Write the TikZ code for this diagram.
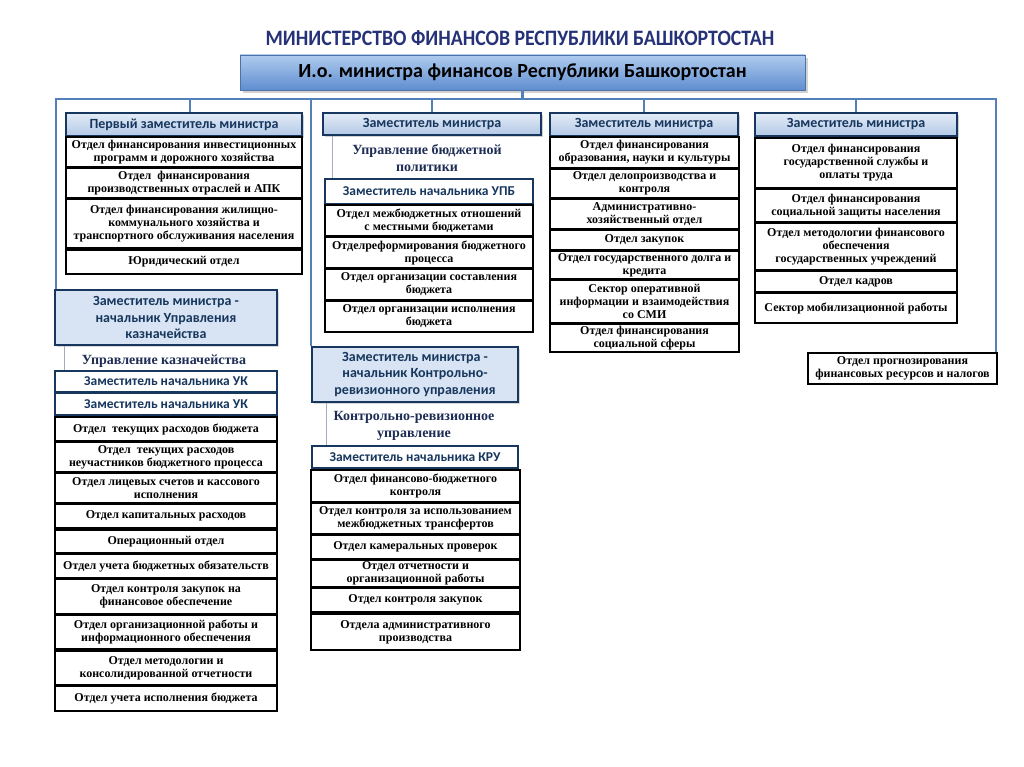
\documentclass[tikz,border=0pt]{standalone}
\usepackage{fontspec}
\setmainfont{Liberation Serif}
\newfontfamily\sansf{Carlito}
\newfontfamily\titlef[FakeStretch=0.9]{Carlito}
\usetikzlibrary{shadows}
\definecolor{navy}{RGB}{23,55,94}
\definecolor{titleblue}{RGB}{38,50,120}
\definecolor{busblue}{RGB}{84,128,185}
\definecolor{hdrtop}{RGB}{175,203,238}
\definecolor{hdrbot}{RGB}{95,142,208}
\definecolor{deptop}{RGB}{228,236,247}
\definecolor{depbot}{RGB}{178,200,230}
\definecolor{lblue}{RGB}{216,228,243}
\definecolor{labcol}{RGB}{30,45,85}
\definecolor{thinc}{RGB}{165,172,192}
\newcommand{\orgbox}[7]{%
  \pgfmathsetmacro\myBW{#5-#3}\pgfmathsetmacro\myBH{#6-#4}%
  \pgfmathsetmacro\myCX{(#3+#5)/2}\pgfmathsetmacro\myCY{(#4+#6)/2}%
  \node[#1, minimum width=\myBW pt, minimum height=\myBH pt] (#2) at (\myCX,\myCY) {#7};}
\tikzset{
  dept/.style={draw=black, line width=1.4pt, fill=white, inner sep=0pt, align=center,
    font=\fontsize{12}{13}\selectfont\bfseries},
  dephead/.style={draw=navy, line width=1.8pt, top color=deptop, bottom color=depbot,
    drop shadow={shadow xshift=2pt, shadow yshift=-2pt, opacity=.35},
    inner sep=0pt, align=center, text=navy, font=\sansf\fontsize{14}{15}\selectfont\bfseries},
  subhead/.style={draw=navy, line width=1.8pt, fill=white, inner sep=0pt, align=center,
    text=navy, font=\sansf\fontsize{13.5}{15}\selectfont\bfseries},
  bighead/.style={draw=navy, line width=1.8pt, fill=lblue, inner sep=0pt, align=center,
    drop shadow={shadow xshift=2pt, shadow yshift=-2pt, opacity=.3},
    text=navy, font=\sansf\fontsize{14}{16.5}\selectfont\bfseries},
  mainhead/.style={draw=hdrbot!80!black, line width=0.8pt, top color=hdrtop, bottom color=hdrbot,
    drop shadow={shadow xshift=3pt, shadow yshift=-3pt, opacity=.35},
    inner sep=0pt, align=center, text=black, font=\sansf\fontsize{20}{22}\selectfont\bfseries},
  lab/.style={inner sep=0pt, align=center, text=labcol, font=\fontsize{14}{17}\selectfont\bfseries},
  bus/.style={draw=busblue, line width=2.4pt},
  thinln/.style={draw=thinc, line width=0.9pt},
}
\begin{document}
\begin{tikzpicture}[x=1pt,y=-1pt]
\fill[white] (0,0) rectangle (1024,767);
\useasboundingbox (0,0) rectangle (1024,767);
\node[text=titleblue, font=\titlef\fontsize{22}{24}\selectfont\bfseries, inner sep=0pt] (title) at (520,38) {МИНИСТЕРСТВО ФИНАНСОВ РЕСПУБЛИКИ БАШКОРТОСТАН};
\orgbox{mainhead}{hdr}{240}{55}{805}{90}{И.о. министра финансов Республики Башкортостан}
% column 1
\orgbox{dephead}{d1h}{66}{113}{302}{136}{Первый заместитель министра}
\orgbox{dept}{c1a}{66}{137}{302}{167}{Отдел финансирования инвестиционных\\программ и дорожного хозяйства}
\orgbox{dept}{c1b}{66}{168}{302}{198}{Отдел\ \ финансирования\\производственных отраслей и АПК}
\orgbox{dept}{c1c}{66}{199}{302}{248}{Отдел финансирования жилищно-\\коммунального хозяйства и\\транспортного обслуживания населения}
\orgbox{dept}{c1d}{66}{250}{302}{274}{Юридический отдел}
% treasury
\orgbox{bighead}{tk}{55}{290}{277}{345}{Заместитель министра -\\начальник Управления\\казначейства}
\node[lab] (labtk) at (164,361) {Управление казначейства};
\orgbox{subhead}{uk1}{55}{371}{277}{392}{Заместитель начальника УК}
\orgbox{subhead}{uk2}{55}{393}{277}{415}{Заместитель начальника УК}
\orgbox{dept}{t1}{55}{417}{277}{441}{Отдел\ \ текущих расходов бюджета}
\orgbox{dept}{t2}{55}{442}{277}{472}{Отдел\ \ текущих расходов\\неучастников бюджетного процесса}
\orgbox{dept}{t3}{55}{473}{277}{503}{Отдел лицевых счетов и кассового\\исполнения}
\orgbox{dept}{t4}{55}{504}{277}{528}{Отдел капитальных расходов}
\orgbox{dept}{t5}{55}{530}{277}{553}{Операционный отдел}
\orgbox{dept}{t6}{55}{554}{277}{578}{Отдел учета бюджетных обязательств}
\orgbox{dept}{t7}{55}{579}{277}{614}{Отдел контроля закупок на\\финансовое обеспечение}
\orgbox{dept}{t8}{55}{615}{277}{649}{Отдел организационной работы и\\информационного обеспечения}
\orgbox{dept}{t9}{55}{651}{277}{685}{Отдел методологии и\\консолидированной отчетности}
\orgbox{dept}{t10}{55}{686}{277}{711}{Отдел учета исполнения бюджета}
% column 2
\orgbox{dephead}{d2h}{323}{113}{541}{135}{Заместитель министра}
\node[lab] (labupb) at (427,158) {Управление бюджетной\\политики};
\orgbox{subhead}{upb}{325}{179}{533}{204}{Заместитель начальника УПБ}
\orgbox{dept}{u1}{325}{205}{533}{236}{Отдел межбюджетных отношений\\с местными бюджетами}
\orgbox{dept}{u2}{325}{237}{533}{268}{Отделреформирования бюджетного\\процесса}
\orgbox{dept}{u3}{325}{269}{533}{300}{Отдел организации составления\\бюджета}
\orgbox{dept}{u4}{325}{301}{533}{332}{Отдел организации исполнения\\бюджета}
% KRU
\orgbox{bighead}{kr}{312}{347}{518}{402}{Заместитель министра -\\начальник Контрольно-\\ревизионного управления}
\node[lab] (labkr) at (414,426) {Контрольно-ревизионное\\управление};
\orgbox{subhead}{kru}{312}{446}{518}{468}{Заместитель начальника КРУ}
\orgbox{dept}{k1}{311}{470}{520}{502}{Отдел финансово-бюджетного\\контроля}
\orgbox{dept}{k2}{311}{503}{520}{534}{Отдел контроля за использованием\\межбюджетных трансфертов}
\orgbox{dept}{k3}{311}{535}{520}{559}{Отдел камеральных проверок}
\orgbox{dept}{k4}{311}{560}{520}{587}{Отдел отчетности и\\организационной работы}
\orgbox{dept}{k5}{311}{588}{520}{612}{Отдел контроля закупок}
\orgbox{dept}{k6}{311}{614}{520}{650}{Отдела административного\\производства}
% column 3
\orgbox{dephead}{d3h}{550}{113}{738}{136}{Заместитель министра}
\orgbox{dept}{s1}{550}{137}{739}{168}{Отдел финансирования\\образования, науки и культуры}
\orgbox{dept}{s2}{550}{169}{739}{198}{Отдел делопроизводства и\\контроля}
\orgbox{dept}{s3}{550}{199}{739}{229}{Административно-\\хозяйственный отдел}
\orgbox{dept}{s4}{550}{230}{739}{250}{Отдел закупок}
\orgbox{dept}{s5}{550}{251}{739}{279}{Отдел государственного долга и\\кредита}
\orgbox{dept}{s6}{550}{280}{739}{323}{Сектор оперативной\\информации и взаимодействия\\со СМИ}
\orgbox{dept}{s7}{550}{324}{739}{352}{Отдел финансирования\\социальной сферы}
% column 4
\orgbox{dephead}{d4h}{755}{113}{957}{136}{Заместитель министра}
\orgbox{dept}{f1}{755}{138}{957}{188}{Отдел финансирования\\государственной службы и\\оплаты труда}
\orgbox{dept}{f2}{755}{189}{957}{222}{Отдел финансирования\\социальной защиты населения}
\orgbox{dept}{f3}{755}{223}{957}{270}{Отдел методологии финансового\\обеспечения\\государственных учреждений}
\orgbox{dept}{f4}{755}{271}{957}{292}{Отдел кадров}
\orgbox{dept}{f5}{755}{293}{957}{323}{Сектор мобилизационной работы}
\orgbox{dept}{fp}{808}{353}{997}{384}{Отдел прогнозирования\\финансовых ресурсов и налогов}
% connectors
\coordinate (busL) at (56,99);
\coordinate (busR) at (996,99);
\draw[bus] (tk.north -| busL) -- (busL) -- (busR) -- (fp.north -| busR);
\draw[bus] (hdr.south) -- (hdr.south |- busL);
\draw[bus] ([xshift=6pt]d1h.north) -- ([xshift=6pt]d1h.north |- busL);
\draw[bus] (d2h.north) -- (d2h.north |- busL);
\draw[bus] (d3h.north) -- (d3h.north |- busL);
\draw[bus] (d4h.north) -- (d4h.north |- busL);
\draw[bus] (kr.north west) -- (kr.north west |- busL);
\draw[thinln] ([xshift=10pt]tk.south west) -- ([xshift=10pt]tk.south west |- uk1.north);
\draw[thinln] ([xshift=10pt]d2h.south west) -- ([xshift=10pt]d2h.south west |- upb.north);
\draw[thinln] ([xshift=15pt]kr.south west) -- ([xshift=15pt]kr.south west |- kru.north);
\end{tikzpicture}
\end{document}
